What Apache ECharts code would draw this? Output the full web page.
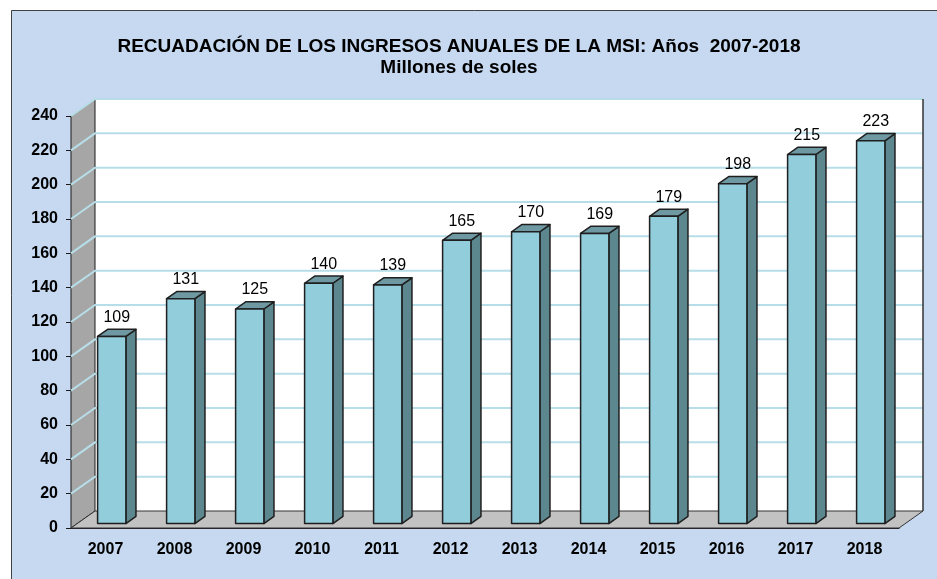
<!DOCTYPE html>
<html>
<head>
<meta charset="utf-8">
<script src="https://cdn.jsdelivr.net/npm/echarts@6/dist/echarts.min.js"></script>
<style>
  html, body { margin: 0; padding: 0; background: #fff; }
  #main { width: 937px; height: 579px; }
</style>
</head>
<body>
<div id="main"></div>
<script>
// datos del grafico
var years = ['2007','2008','2009','2010','2011','2012','2013','2014','2015','2016','2017','2018'];
var ingresos = [109, 131, 125, 140, 139, 165, 170, 169, 179, 198, 215, 223];
var yTicks = [0, 20, 40, 60, 80, 100, 120, 140, 160, 180, 200, 220, 240];

// profundidad del efecto 3D
var DX = 24, DY = -17;
var fontFam = 'Arial, "Liberation Sans", sans-serif';

var myChart = echarts.init(document.getElementById('main'));

// paredes, piso y lineas de division
function renderWalls(params, api) {
    var cs = params.coordSys;
    var x0 = cs.x, x1 = cs.x + cs.width;
    var yTop = cs.y, yb = cs.y + cs.height;
    var kids = [];
    // pared de fondo
    kids.push({type: 'rect', shape: {x: x0 + DX, y: yTop + DY, width: cs.width, height: cs.height},
        style: {fill: '#ffffff'}});
    // pared izquierda
    kids.push({type: 'polygon', shape: {points: [[x0, yTop], [x0, yb], [x0 + DX, yb + DY], [x0 + DX, yTop + DY]]},
        style: {fill: '#a6a6a6', stroke: '#1a1a1a', lineWidth: 1}});
    // lineas de division
    yTicks.forEach(function (v) {
        if (v === 0) return;
        var y = api.coord([0, v])[1];
        kids.push({type: 'polyline', shape: {points: [[x0, y], [x0 + DX, y + DY], [x1 + DX, y + DY]]},
            style: {stroke: '#b7dee8', lineWidth: 2, fill: null}});
    });
    // borde derecho de la pared
    kids.push({type: 'line', shape: {x1: x1 + DX, y1: yTop + DY, x2: x1 + DX, y2: yb + DY},
        style: {stroke: '#333', lineWidth: 1.5}});
    // piso
    kids.push({type: 'polygon', shape: {points: [[x0, yb], [x1, yb], [x1 + DX, yb + DY], [x0 + DX, yb + DY]]},
        style: {fill: '#c2c2c2', stroke: '#333', lineWidth: 1}});
    return {type: 'group', children: kids};
}

// barras en 3D
function renderBar(params, api) {
    var idx = api.value(0);
    var val = api.value(1);
    var top = api.coord([idx, val]);
    var base = api.coord([idx, 0]);
    var band = api.size([1, 0])[0];
    var w = band * 0.41;
    var off = 0.26, dep = 0.42;
    var cx = top[0] + DX * off;
    var xl = cx - w / 2, xr = cx + w / 2;
    var yt = top[1] + DY * off, yb = base[1] + DY * off;
    var ddx = DX * dep, ddy = DY * dep;
    var line = {stroke: '#1f1f1f', lineWidth: 1.5, lineJoin: 'round'};
    return {type: 'group', children: [
        {type: 'polygon', shape: {points: [[xr, yt], [xr + ddx, yt + ddy], [xr + ddx, yb + ddy], [xr, yb]]},
            style: Object.assign({fill: '#5d878f'}, line)},
        {type: 'polygon', shape: {points: [[xl, yt], [xl + ddx, yt + ddy], [xr + ddx, yt + ddy], [xr, yt]]},
            style: Object.assign({fill: '#6e98a2'}, line)},
        {type: 'rect', shape: {x: xl, y: yt, width: w, height: yb - yt},
            style: Object.assign({fill: '#92cddc'}, line)},
        {type: 'text', x: cx + ddx / 2, y: yt + ddy - 4,
            style: {text: String(val), fill: '#000', font: '16px ' + fontFam, align: 'center', verticalAlign: 'bottom'}}
    ]};
}

var option = {
    backgroundColor: '#ffffff',
    animation: false,
    graphic: [{
        type: 'rect', left: 11, top: 10, z: -10,
        shape: {width: 940, height: 580},
        style: {fill: '#c6d9f1', stroke: '#404040', lineWidth: 1}
    }],
    title: {
        text: 'RECUADACIÓN DE LOS INGRESOS ANUALES DE LA MSI: Años  2007-2018\nMillones de soles',
        left: 454, top: 31, textAlign: 'center',
        textStyle: {fontFamily: fontFam, fontSize: 19, fontWeight: 'bold', color: '#000', lineHeight: 21}
    },
    grid: {left: 71, top: 116, width: 828, height: 412},
    xAxis: {
        type: 'category', data: years,
        axisLine: {lineStyle: {color: '#1a1a1a', width: 1}},
        axisTick: {length: 5, lineStyle: {color: '#555'}},
        axisLabel: {color: '#000', fontFamily: fontFam, fontSize: 16, fontWeight: 'bold', margin: 14}
    },
    yAxis: {
        type: 'value', min: 0, max: 240, interval: 20,
        axisLine: {show: true, lineStyle: {color: '#1a1a1a', width: 1}},
        axisTick: {show: true, length: 5, lineStyle: {color: '#1a1a1a'}},
        splitLine: {show: false},
        axisLabel: {color: '#000', fontFamily: fontFam, fontSize: 16, fontWeight: 'bold', margin: 13}
    },
    series: [{
        type: 'custom', z: 1, silent: true,
        renderItem: renderWalls,
        data: [[0, 0]]
    }, {
        type: 'custom', z: 3,
        renderItem: renderBar,
        data: ingresos.map(function (v, i) { return [i, v]; })
    }]
};
myChart.setOption(option);
</script>
</body>
</html>
